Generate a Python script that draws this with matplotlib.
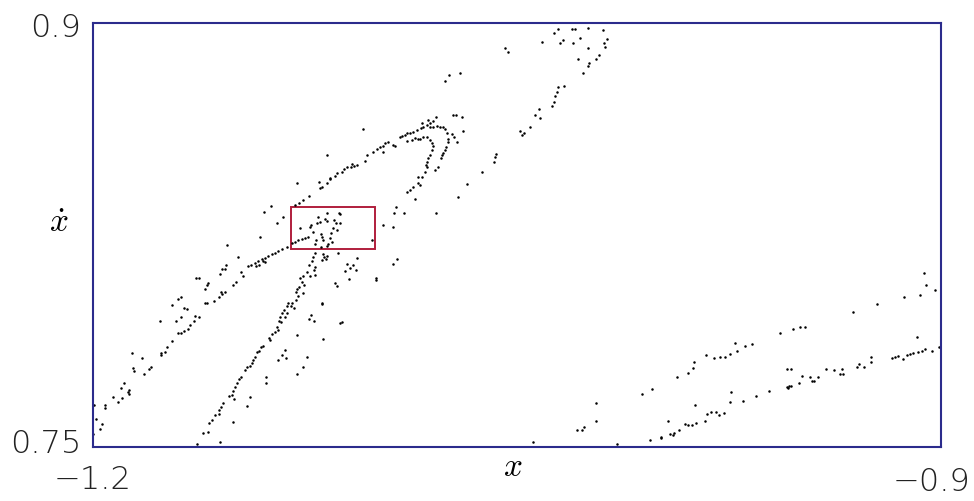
import matplotlib
matplotlib.use("Agg")
import matplotlib.pyplot as plt
import matplotlib.transforms as mtransforms
from matplotlib.patches import Rectangle

# points of the section (x, xdot)
outer_x = [-1.1525, -1.1487, -1.1528, -1.1543, -1.1533, -1.1549, -1.1475, -1.1467, -1.1450, -1.1635,
           -1.1625, -1.1592, -1.1594, -1.1603, -1.1493, -1.1502, -1.1547, -1.1542, -1.1533, -1.1552,
           -1.1569, -1.1601, -1.1596, -1.1687, -1.1698, -1.1719, -1.1675, -1.1666, -1.1688, -1.1705,
           -1.1762, -1.1638, -1.1625, -1.1641, -1.1655, -1.1663, -1.1675, -1.1698, -1.1687, -1.1719,
           -1.1737, -1.1744, -1.1757, -1.1758, -1.1860, -1.1824, -1.1793, -1.1800, -1.1856, -1.1853,
           -1.1817, -1.1889, -1.1900, -1.1871, -1.1874, -1.1871, -1.1929, -1.1895, -1.1911, -1.1955,
           -1.1956, -1.1995, -1.1989, -1.1966, -1.1973, -1.1997, -1.1438, -1.1422, -1.1412, -1.1396,
           -1.1313, -1.1331, -1.1343, -1.1355, -1.1366, -1.1378, -1.1390, -1.1402, -1.1414, -1.1425,
           -1.1390, -1.1408, -1.1370, -1.1394, -1.1325, -1.1349, -1.1278, -1.1233, -1.1255, -1.1269,
           -1.1284, -1.1196, -1.1190, -1.1170, -1.1160, -1.1198]
outer_y = [0.8215, 0.8171, 0.8144, 0.8129, 0.8129, 0.8111, 0.8118, 0.8106, 0.8140, 0.8099,
           0.8099, 0.8079, 0.8072, 0.8059, 0.8084, 0.8073, 0.8049, 0.8041, 0.8048, 0.8030,
           0.8016, 0.8008, 0.8008, 0.8032, 0.8022, 0.8001, 0.7993, 0.7989, 0.7961, 0.7946,
           0.7946, 0.7964, 0.7961, 0.7947, 0.7930, 0.7918, 0.7911, 0.7902, 0.7902, 0.7875,
           0.7852, 0.7837, 0.7826, 0.7831, 0.7831, 0.7814, 0.7782, 0.7774, 0.7778, 0.7768,
           0.7758, 0.7725, 0.7709, 0.7701, 0.7692, 0.7686, 0.7677, 0.7674, 0.7660, 0.7648,
           0.7636, 0.7647, 0.7598, 0.7581, 0.7564, 0.7545, 0.8144, 0.8140, 0.8144, 0.8158,
           0.8207, 0.8200, 0.8195, 0.8187, 0.8183, 0.8176, 0.8169, 0.8164, 0.8159, 0.8150,
           0.8156, 0.8244, 0.8353, 0.8333, 0.8315, 0.8294, 0.8435, 0.8388, 0.8374, 0.8362,
           0.8356, 0.8416, 0.8421, 0.8435, 0.8447, 0.8439]

core_x = [-1.1127, -1.1125, -1.1170, -1.1178, -1.1170, -1.1146, -1.1139, -1.1125, -1.1202, -1.1196,
          -1.1205, -1.1228, -1.1231, -1.1266, -1.1151, -1.1134, -1.1156, -1.1219, -1.1193, -1.1190,
          -1.1184, -1.1237, -1.1249, -1.1260, -1.1272, -1.1284, -1.1296, -1.1210, -1.1213, -1.1160,
          -1.1154, -1.1166, -1.1172, -1.1013, -1.1193, -1.0887, -1.0927, -1.0934, -1.0899, -1.0972,
          -1.0936, -1.0785, -1.0924, -1.0936, -1.0998, -1.0998, -1.1078, -1.1089, -1.1107, -1.1068,
          -1.1095, -1.1143, -1.1137, -1.1119, -1.1125, -1.1190, -1.1184, -1.1066, -1.1101, -1.1131,
          -1.1213, -1.1219, -1.1186, -1.1181, -1.1170, -1.1174, -1.1190]
core_y = [0.8329, 0.8323, 0.8327, 0.8306, 0.8301, 0.8303, 0.8292, 0.8294, 0.8315, 0.8297,
          0.8292, 0.8286, 0.8280, 0.8274, 0.8274, 0.8268, 0.8256, 0.8262, 0.8254, 0.8244,
          0.8232, 0.8244, 0.8238, 0.8235, 0.8232, 0.8226, 0.8223, 0.8232, 0.8218, 0.8238,
          0.8226, 0.8218, 0.8211, 0.8232, 0.8209, 0.8404, 0.8348, 0.8329, 0.8329, 0.8286,
          0.8280, 0.8327, 0.8164, 0.8147, 0.8099, 0.8091, 0.8144, 0.8132, 0.8124, 0.8126,
          0.8093, 0.8079, 0.8070, 0.7943, 0.7937, 0.8006, 0.7881, 0.8168, 0.8147, 0.8187,
          0.8187, 0.8171, 0.8183, 0.8171, 0.8176, 0.8164, 0.8162]

inner_x = [-1.1225, -1.1233, -1.1212, -1.1216, -1.1243, -1.1255, -1.1231, -1.1213, -1.1266, -1.1260,
           -1.1252, -1.1269, -1.1278, -1.1281, -1.1257, -1.1273, -1.1280, -1.1295, -1.1308, -1.1313,
           -1.1299, -1.1288, -1.1323, -1.1330, -1.1337, -1.1339, -1.1335, -1.1319, -1.1313, -1.1187,
           -1.1227, -1.1217, -1.1233, -1.1349, -1.1343, -1.1355, -1.1366, -1.1377, -1.1372, -1.1278,
           -1.1396, -1.1405, -1.1410, -1.1419, -1.1424, -1.1319, -1.1331, -1.1316, -1.1343, -1.1243,
           -1.1255, -1.1278, -1.1434, -1.1437, -1.1443, -1.1455, -1.1461, -1.1388, -1.1387, -1.1475,
           -1.1481, -1.1490, -1.1496, -1.1502, -1.1508, -1.1516, -1.1443, -1.1453, -1.1537, -1.1547,
           -1.1552, -1.1554, -1.1567, -1.1579, -1.1587, -1.1502, -1.1593, -1.1608, -1.1549, -1.1629, -1.1500]
inner_y = [0.8158, 0.8145, 0.8136, 0.8126, 0.8120, 0.8105, 0.8105, 0.8108, 0.8097, 0.8085,
           0.8073, 0.8065, 0.8058, 0.8047, 0.8044, 0.8034, 0.8020, 0.8010, 0.8010, 0.7999,
           0.7999, 0.7991, 0.7985, 0.7973, 0.7959, 0.7946, 0.7940, 0.7959, 0.7973, 0.8008,
           0.7967, 0.7947, 0.7952, 0.7925, 0.7914, 0.7908, 0.7899, 0.7886, 0.7878, 0.7896,
           0.7857, 0.7852, 0.7840, 0.7836, 0.7819, 0.7843, 0.7825, 0.7813, 0.7807, 0.7819,
           0.7784, 0.7757, 0.7807, 0.7796, 0.7786, 0.7782, 0.7772, 0.7746, 0.7725, 0.7748,
           0.7740, 0.7725, 0.7713, 0.7698, 0.7683, 0.7680, 0.7677, 0.7644, 0.7656, 0.7640,
           0.7630, 0.7615, 0.7613, 0.7595, 0.7585, 0.7587, 0.7553, 0.7548, 0.7518, 0.7509, 0.7670]

upper_x = [-1.1042, -1.1160, -1.1143, -1.1134, -1.1119, -1.1111, -1.1101, -1.1083, -1.1075, -1.1066,
           -1.1087, -1.1036, -1.1030, -1.1009, -1.0995, -1.0983, -1.0974, -1.0966, -1.0954, -1.0936,
           -1.0930, -1.0974, -1.0913, -1.0907, -1.0895, -1.0887, -1.0877, -1.0866, -1.0854, -1.0840,
           -1.0830, -1.0816, -1.0807, -1.0797, -1.0785, -1.0836, -1.0813, -1.0871, -1.0860, -1.0851,
           -1.0842, -1.0830, -1.0818, -1.0889, -1.0807, -1.0795, -1.0783, -1.0771, -1.0762, -1.0724,
           -1.0715, -1.0694, -1.0689, -1.0754, -1.0748, -1.0742, -1.0745, -1.0750, -1.0754, -1.0760,
           -1.0765, -1.0769, -1.0730, -1.0722, -1.0712, -1.0807, -1.0801, -1.0797, -1.0801, -1.0807,
           -1.0813, -1.0816, -1.0821, -1.0818, -1.0777, -1.0789, -1.0824, -1.0836, -1.0848, -1.0842,
           -1.0851, -1.0868, -1.0877, -1.0860, -1.0573, -1.0577, -1.0580, -1.0624, -1.0677, -1.0707,
           -1.0541, -1.0530, -1.0754, -1.0738, -1.0701, -1.1172, -1.0412, -1.0368, -1.0356, -1.0335,
           -1.0347, -1.0306, -1.0294, -1.0302, -1.0276, -1.0247, -1.0194, -1.0180, -1.0191, -1.0188,
           -1.0250, -1.0282, -1.0243, -1.0247, -1.0220, -1.0211, -1.0265, -1.0332, -1.0353, -1.0359,
           -1.0365, -1.0368, -1.0376, -1.0420, -1.0435, -1.0418, -1.0453, -1.0474, -1.0488, -1.0482]
upper_y = [0.8625, 0.8451, 0.8459, 0.8469, 0.8474, 0.8483, 0.8490, 0.8502, 0.8495, 0.8498,
           0.8490, 0.8513, 0.8534, 0.8545, 0.8554, 0.8561, 0.8565, 0.8575, 0.8581, 0.8569,
           0.8565, 0.8545, 0.8596, 0.8601, 0.8604, 0.8610, 0.8612, 0.8616, 0.8622, 0.8628,
           0.8632, 0.8640, 0.8646, 0.8655, 0.8667, 0.8646, 0.8657, 0.8587, 0.8593, 0.8589,
           0.8589, 0.8596, 0.8598, 0.8584, 0.8632, 0.8634, 0.8636, 0.8634, 0.8632, 0.8675,
           0.8675, 0.8669, 0.8620, 0.8625, 0.8612, 0.8589, 0.8581, 0.8563, 0.8551, 0.8542,
           0.8534, 0.8522, 0.8608, 0.8598, 0.8581, 0.8587, 0.8575, 0.8565, 0.8551, 0.8534,
           0.8522, 0.8510, 0.8498, 0.8490, 0.8492, 0.8480, 0.8474, 0.8457, 0.8455, 0.8427,
           0.8435, 0.8421, 0.8410, 0.8377, 0.8537, 0.8527, 0.8510, 0.8474, 0.8431, 0.8386,
           0.8911, 0.8899, 0.8797, 0.8817, 0.8823, 0.8534, 0.8935, 0.8967, 0.8979, 0.8941,
           0.8931, 0.8979, 0.8979, 0.8929, 0.8947, 0.8982, 0.8976, 0.8943, 0.8929, 0.8915,
           0.8911, 0.8872, 0.8858, 0.8850, 0.8872, 0.8888, 0.8825, 0.8778, 0.8773, 0.8758,
           0.8742, 0.8722, 0.8707, 0.8695, 0.8675, 0.8664, 0.8632, 0.8612, 0.8620, 0.8604]

right_x = [-1.0221, -1.0221, -1.0288, -1.0270, -1.0261, -1.0441, -1.0144, -1.0056, -1.0023, -0.9934,
           -0.9893, -0.9876, -0.9873, -0.9831, -0.9802, -0.9781, -0.9764, -0.9746, -0.9728, -0.9720,
           -0.9693, -0.9669, -0.9571, -0.9522, -0.9498, -0.9481, -0.9312, -0.9225, -0.9060, -0.9053,
           -0.9021, -0.9001, -0.9131, -0.9076, -1.0029, -0.9991, -0.9991, -0.9960, -0.9948, -0.9946,
           -0.9925, -0.9966, -0.9905, -0.9893, -0.9881, -0.9866, -0.9870, -0.9834, -0.9826, -0.9814,
           -0.9795, -0.9784, -0.9769, -0.9746, -0.9742, -0.9699, -0.9654, -0.9610, -0.9543, -0.9536,
           -0.9540, -0.9531, -0.9545, -0.9531, -0.9504, -0.9492, -0.9463, -0.9457, -0.9451, -0.9434,
           -0.9406, -0.9378, -0.9351, -0.9347, -0.9357, -0.9296, -0.9289, -0.9272, -0.9248, -0.9248,
           -0.9174, -0.9162, -0.9151, -0.9135, -0.9121, -0.9109, -0.9098, -0.9080, -0.9068, -0.9056,
           -0.9033, -0.9009, -0.9001, -0.9001, -0.9086]
right_y = [0.7654, 0.7592, 0.7559, 0.7559, 0.7569, 0.7516, 0.7510, 0.7686, 0.7704, 0.7748,
           0.7762, 0.7778, 0.7801, 0.7825, 0.7813, 0.7816, 0.7819, 0.7829, 0.7869, 0.7840,
           0.7857, 0.7863, 0.7902, 0.7918, 0.7923, 0.7923, 0.7978, 0.8006, 0.8117, 0.8073,
           0.8055, 0.8079, 0.8030, 0.8038, 0.7522, 0.7530, 0.7536, 0.7545, 0.7542, 0.7550,
           0.7559, 0.7592, 0.7581, 0.7577, 0.7577, 0.7585, 0.7648, 0.7592, 0.7616, 0.7624,
           0.7624, 0.7612, 0.7621, 0.7660, 0.7695, 0.7663, 0.7681, 0.7697, 0.7713, 0.7715,
           0.7707, 0.7715, 0.7774, 0.7774, 0.7725, 0.7752, 0.7746, 0.7734, 0.7731, 0.7748,
           0.7777, 0.7770, 0.7774, 0.7758, 0.7758, 0.7784, 0.7793, 0.7782, 0.7819, 0.7801,
           0.7813, 0.7819, 0.7822, 0.7810, 0.7825, 0.7829, 0.7833, 0.7837, 0.7840, 0.7845,
           0.7840, 0.7852, 0.7867, 0.7849, 0.7890]

# zoom window marked in red
box_x = [-1.13, -1.10]
box_y = [0.82, 0.835]

x_lim = [-1.2, -0.9]
y_lim = [0.75, 0.9]
x_tick_labels = ["\u22121.2", "\u22120.9"]
y_tick_labels = ["0.75", "0.9"]

plt.rcParams['mathtext.fontset'] = 'cm'
frame_col = "#2b2b8c"

fig = plt.figure(figsize=(9.74, 5.01), dpi=100)
ax = fig.add_axes([0.095, 0.1084, 0.8712, 0.8451])

for xs, ys in [(outer_x, outer_y), (core_x, core_y), (inner_x, inner_y),
               (upper_x, upper_y), (right_x, right_y)]:
    ax.plot(xs, ys, linestyle="none", marker="o", markersize=1.8,
            markeredgewidth=0, color="black")

ax.add_patch(Rectangle((box_x[0], box_y[0]), box_x[1] - box_x[0], box_y[1] - box_y[0],
                       fill=False, edgecolor="#b01e3c", linewidth=1.4))

ax.set_xlim(x_lim)
ax.set_ylim(y_lim)
ax.set_xticks(x_lim)
ax.set_xticklabels(x_tick_labels)
ax.set_yticks(y_lim)
ax.set_yticklabels(y_tick_labels)
ax.tick_params(length=0, labelsize=23, colors="#222222")
ax.tick_params(axis="x", pad=13)
ax.tick_params(axis="y", pad=8)
for lab in ax.get_xticklabels() + ax.get_yticklabels():
    lab.set_fontfamily("DejaVu Sans")
    lab.set_fontweight("light")

# nudge the end labels like in the original
xl = ax.get_xticklabels()
xl[1].set_transform(xl[1].get_transform() +
                    mtransforms.ScaledTranslation(-10 / 100, -2 / 100, fig.dpi_scale_trans))
yl = ax.get_yticklabels()
yl[0].set_transform(yl[0].get_transform() +
                    mtransforms.ScaledTranslation(0, 6 / 100, fig.dpi_scale_trans))
yl[1].set_transform(yl[1].get_transform() +
                    mtransforms.ScaledTranslation(0, -2 / 100, fig.dpi_scale_trans))

for sp in ax.spines.values():
    sp.set_color(frame_col)
    sp.set_linewidth(1.5)

fig.text(0.526, 0.068, r"$x$", fontsize=24, ha="center", va="center")
fig.text(0.060, 0.555, r"$\dot{x}$", fontsize=24, ha="center", va="center")

fig.savefig("out.png", dpi=100)
